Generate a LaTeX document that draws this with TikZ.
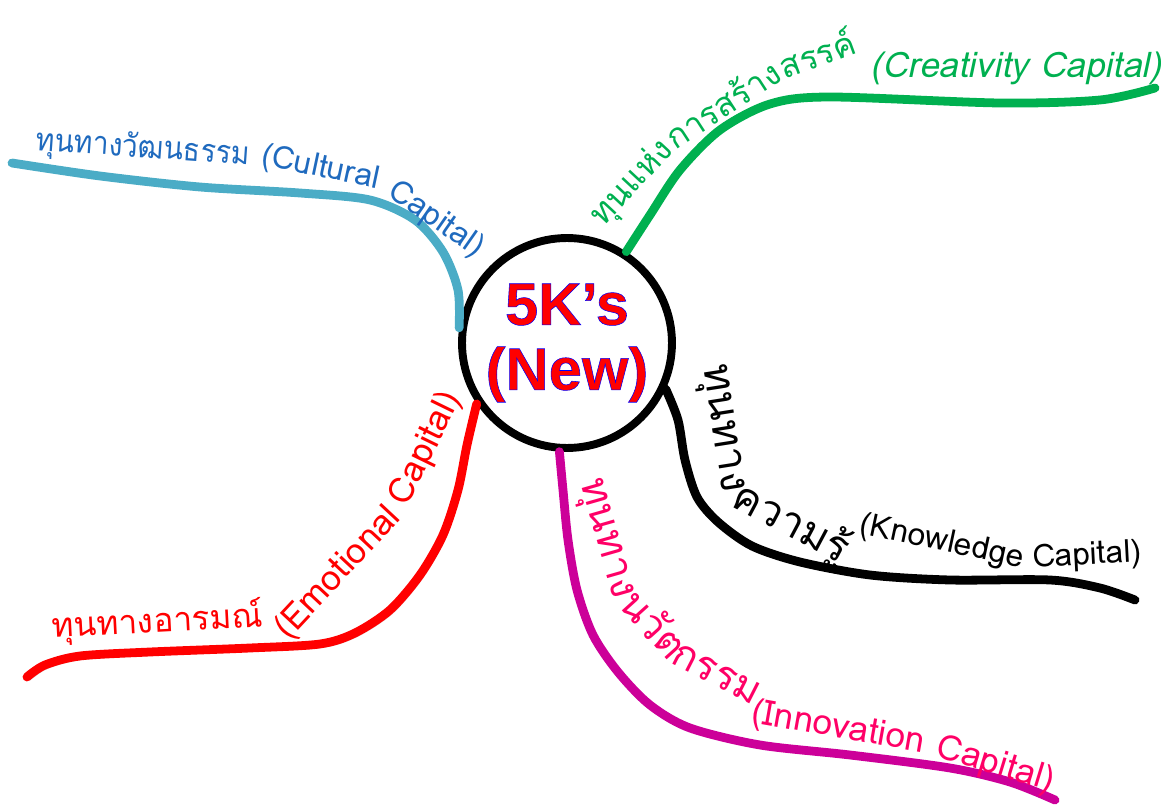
\documentclass[tikz,border=0pt]{standalone}
\usepackage{fontspec}
\usepackage{xcolor}
\usepackage{tikz}
\usetikzlibrary{shapes,positioning}
\setmainfont{Liberation Sans}
\newfontfamily\thaifont[Script=Thai]{Loma}
\definecolor{cultline}{RGB}{75,172,198}
\definecolor{culttext}{RGB}{31,106,190}
\definecolor{creagreen}{RGB}{0,176,80}
\definecolor{innovline}{RGB}{204,0,153}
\definecolor{innovtext}{RGB}{255,0,102}
\newcommand{\outlined}[1]{\special{pdf:literal direct 0 0 1 RG 2 Tr 0.3 w}#1\special{pdf:literal direct 0 Tr}}
\tikzset{
    hubcircle/.style={circle, draw, line width=4.5pt, minimum size=4.2cm, inner sep=0pt,
        align=center, text=red, font=\bfseries\fontsize{34}{37}\selectfont},
    branch/.style={line width=5pt, line cap=round, line join=round},
    shadowed/.style={preaction={draw, black, opacity=0.15, transform canvas={shift={(1.5pt,-2pt)}}}},
    lbl/.style={anchor=base west, inner sep=0pt, font=\thaifont\fontsize{#1}{#1}\selectfont},
    lblit/.style={anchor=base west, inner sep=0pt, font=\thaifont\itshape\fontsize{#1}{#1}\selectfont},
}
\begin{document}
\begin{tikzpicture}[x=0.02cm, y=-0.02cm]
                \useasboundingbox (0,0) rectangle (1161,807);

                \node[hubcircle] (hub) at (567,343) {\outlined{5K’s}\\\outlined{(New)}};

                \coordinate (cult-end) at (12,163);
                \coordinate (crea-end) at (1155,88);
                \coordinate (know-end) at (1135,600);
                \coordinate (innov-end) at (1055,800);
                \coordinate (emo-end) at (27,677);

                % branches
                \draw[branch, shadowed, cultline] plot[smooth] coordinates {
                    (cult-end) (100,176) (200,187) (300,193) (370,200) (415,220) (443,252) (458,290) (hub.172)};
                \draw[branch, creagreen] plot[smooth] coordinates {
                    (hub.57) (650,215) (680,170) (720,130) (770,104) (830,97) (1000,103) (1100,100) (crea-end)};
                \draw[branch, black] plot[smooth] coordinates {
                    (hub.-25) (678,420) (685,460) (697,497) (718,522) (752,546) (800,562) (870,575) (950,580) (1050,580) (1100,588) (know-end)};
                \draw[branch, innovline] plot[smooth] coordinates {
                    (hub.-94) (563,490) (568,540) (577,590) (593,635) (618,672) (650,705) (690,728) (760,745) (850,755) (950,768) (1010,782) (innov-end)};
                \draw[branch, shadowed, red] plot[smooth] coordinates {
                    (hub.214) (467,445) (458,490) (443,535) (420,575) (390,610) (355,633) (320,644) (250,648) (150,652) (80,656) (45,665) (emo-end)};

                % labels
                \node[lbl=18, text=culttext, rotate=-4, xscale=0.9] (cult-a) at (35,150) {ทุนทางวัฒนธรรม};
                \node[lbl=18, text=culttext, rotate=-12] (cult-b) at (260,164) {(Cultural};
                \node[lbl=18, text=culttext, rotate=-35] (cult-c) at (cult-b.base east) {\ Capital)};

                \node[lbl=19, text=creagreen, rotate=47] (crea-a) at (603,228) {ทุนแห่ง};
                \node[lbl=19, text=creagreen, rotate=33] (crea-b) at (crea-a.base east) {การสร้าง};
                \node[lbl=19, text=creagreen, rotate=20] (crea-c) at (crea-b.base east) {สรรค์};
                \node[lblit=20, text=creagreen] (crea-d) at (870,78) {(Creativity Capital)};

                \node[lbl=24, rotate=-81] (know-a) at (703,366) {ทุนทาง};
                \node[lbl=24, rotate=-28] (know-b) at (729,505) {ความรู้};
                \node[lbl=18, rotate=-12] (know-c) at (858,533) {(Knowledge};
                \node[lbl=18, rotate=3] (know-d) at (know-c.base east) {\ Capital)};

                \node[lbl=23, text=innovtext, rotate=-74] (innov-a) at (580,482) {ทุนทาง};
                \node[lbl=23, text=innovtext, rotate=-48] (innov-b) at ([shift={(3,4)}]innov-a.base east) {นวัต};
                \node[lbl=23, text=innovtext, rotate=-27] (innov-c) at (innov-b.base east) {กรรม};
                \node[lbl=20, text=innovtext, rotate=-10] (innov-d) at (750,722) {(Innovation};
                \node[lbl=20, text=innovtext, rotate=-17] (innov-e) at (innov-d.base east) {\ Capital)};

                \node[lbl=19, text=red, rotate=3] (emo-a) at (52,638) {ทุนทางอารมณ์};
                \node[lbl=20, text=red, rotate=47] (emo-b) at (288,641) {(Emotional};
                \node[lbl=20, text=red, rotate=64] (emo-c) at (emo-b.base east) {\ Capital)};
\end{tikzpicture}
\end{document}
